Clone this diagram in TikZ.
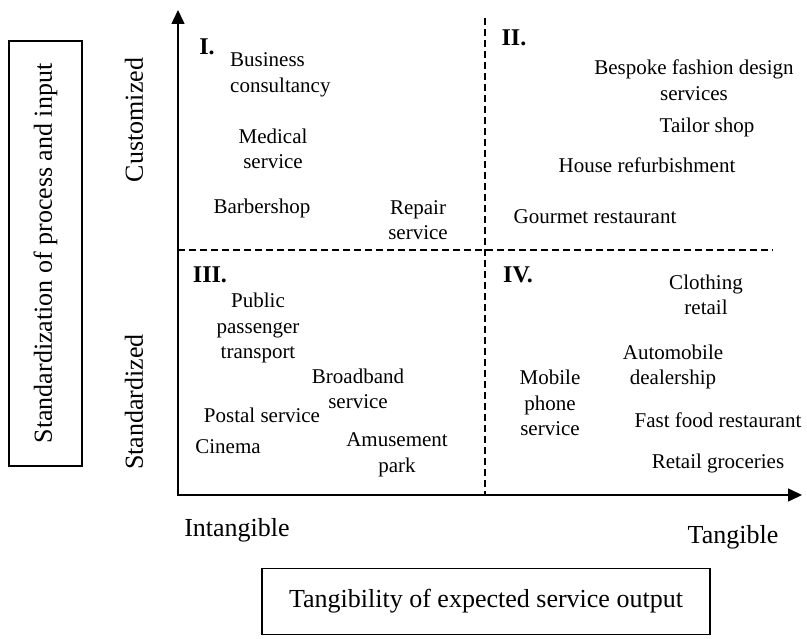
\documentclass[tikz,border=0pt]{standalone}
\usepackage{fontspec}
\setmainfont{Liberation Serif}
\usetikzlibrary{arrows.meta}
\begin{document}
\begin{tikzpicture}[x=1pt,y=-1pt,
  item/.style={align=center,font=\fontsize{21}{25.5}\selectfont,inner sep=0pt},
  quad/.style={font=\fontsize{24}{28}\selectfont\bfseries,inner sep=0pt},
  axlabel/.style={font=\fontsize{26}{30}\selectfont,inner sep=0pt},
  axis/.style={line width=1.5pt,{Triangle[length=14pt,width=13pt]}-{Triangle[length=14pt,width=13pt]}},
  divider/.style={line width=1.2pt,dash pattern=on 7pt off 4pt},
  frame/.style={draw,line width=1.2pt}]
\useasboundingbox (0,0) rectangle (807,639);
\coordinate (o) at (178,495);
\coordinate (ytop) at (178,10);
\coordinate (xend) at (802,495);
\coordinate (vtop) at (485,18);
\coordinate (vbot) at (485,495);
\coordinate (hl) at (178,250);
\coordinate (hr) at (773,250);
\draw[divider] (vtop) -- (vbot);
\draw[divider] (hl) -- (hr);
\draw[axis] (ytop) -- (o) -- (xend);

\node[frame,axlabel,rotate=90,minimum width=425pt,minimum height=73pt] (stdbox) at (45.5,253.5) {Standardization of process and input};
\node[axlabel,rotate=90] (cust) at (134,120) {Customized};
\node[axlabel,rotate=90] (stand) at (134,402) {Standardized};
\node[axlabel] (intang) at (237,530) {Intangible};
\node[axlabel] (tang) at (733,537) {Tangible};
\node[frame,axlabel,minimum width=448pt,minimum height=66pt] (tangbox) at (486,601.5) {Tangibility of expected service output};

\node[quad] (q1) at (207,47) {I.};
\node[quad] (q2) at (514,38) {II.};
\node[quad] (q3) at (210,275) {III.};
\node[quad] (q4) at (518,275) {IV.};

\node[item,align=left,anchor=west] (bus) at (230,75) {Business\\consultancy};
\node[item] (med) at (273,149) {Medical\\service};
\node[item] (barb) at (262,208) {Barbershop};
\node[item] (rep) at (418,220) {Repair\\service};

\node[item] (besp) at (694,80) {Bespoke fashion design\\services};
\node[item] (tail) at (707,127) {Tailor shop};
\node[item] (house) at (647,165) {House refurbishment};
\node[item] (gour) at (595,217) {Gourmet restaurant};

\node[item] (pub) at (258,328) {Public\\passenger\\transport};
\node[item] (broad) at (358,389) {Broadband\\service};
\node[item] (post) at (262,415) {Postal service};
\node[item] (cin) at (228,447) {Cinema};
\node[item] (amus) at (397,455) {Amusement\\park};

\node[item] (cloth) at (706,295) {Clothing\\retail};
\node[item] (auto) at (673,367) {Automobile\\dealership};
\node[item] (mob) at (550,403) {Mobile\\phone\\service};
\node[item] (fast) at (718,420) {Fast food restaurant};
\node[item] (groc) at (718,463) {Retail groceries};
\end{tikzpicture}
\end{document}
